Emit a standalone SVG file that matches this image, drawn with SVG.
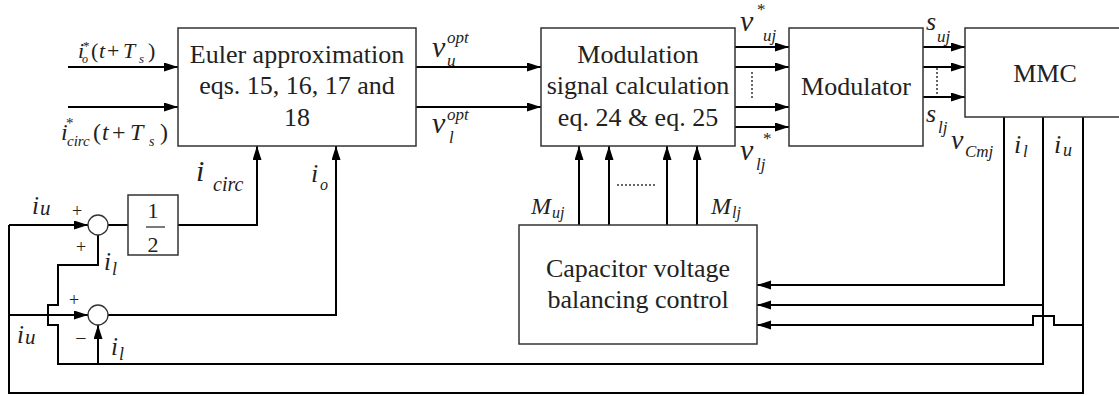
<svg xmlns="http://www.w3.org/2000/svg" width="1119" height="396" viewBox="0 0 1119 396" font-family="Liberation Serif, DejaVu Serif, serif">
<style>
.box{fill:#fff;stroke:#333;stroke-width:1.5}
.ln{fill:none;stroke:#000;stroke-width:2}
.ar{fill:none;stroke:#000;stroke-width:2;marker-end:url(#ah)}
.dot{fill:none;stroke:#333;stroke-width:1.5;stroke-dasharray:2,2}
.t{font-size:26px;fill:#222;text-anchor:middle}
.m{font-style:italic;fill:#222}
.n{fill:#222}
</style>
<defs>
<marker id="ah" markerUnits="userSpaceOnUse" markerWidth="15" markerHeight="10" refX="14" refY="4.5" orient="auto"><path d="M0,0 L14,4.5 L0,9 z" fill="#000"/></marker>
</defs>
<rect width="1119" height="396" fill="#fff"/>
<g id="connectors">
<path class="ar" d="M68,67 H178"/>
<path class="ar" d="M68,107 H178"/>
<path class="ar" d="M416,67 H541"/>
<path class="ar" d="M416,107 H541"/>
<path class="ar" d="M735,47 H789"/>
<path class="ar" d="M735,67 H789"/>
<path class="ar" d="M735,107 H789"/>
<path class="ar" d="M735,127 H789"/>
<path class="dot" d="M752,72 V99"/>
<path class="ar" d="M923,47 H965"/>
<path class="ar" d="M923,67 H965"/>
<path class="ar" d="M923,97 H965"/>
<path class="dot" d="M937,68 V96"/>
<path class="ar" d="M579,225 V146"/>
<path class="ar" d="M609,225 V146"/>
<path class="ar" d="M667,225 V146"/>
<path class="ar" d="M697,225 V146"/>
<path class="dot" d="M617,185 H656"/>
<path class="ar" d="M1004,117 V285 H757"/>
<path class="ar" d="M1043,305 H757"/>
<path class="ln" d="M1043,117 V364 H58 V325 H48 V305 H58 V265 H98 V235"/>
<path class="ar" d="M1083,325 H1054 V316 H1033 V325 H757"/>
<path class="ln" d="M1083,117 V393 H9 V225"/>
<path class="ar" d="M9,225 H88"/>
<path class="ar" d="M9,315 H88"/>
<path class="ar" d="M98,364 V325"/>
<path class="ln" d="M108,225 H128"/>
<path class="ar" d="M178,225 H257 V146"/>
<path class="ar" d="M108,315 H336 V146"/>
</g>
<g id="euler">
<rect class="box" x="178" y="28" width="238" height="118"/>
<text class="t" x="297" y="63">Euler approximation</text>
<text class="t" x="297" y="94">eqs. 15, 16, 17 and</text>
<text class="t" x="297" y="126">18</text>
</g>
<g id="modcalc">
<rect class="box" x="541" y="28" width="194" height="118"/>
<text class="t" x="638" y="63">Modulation</text>
<text class="t" x="638" y="94">signal calculation</text>
<text class="t" x="638" y="126">eq. 24 &amp; eq. 25</text>
</g>
<g id="modulator">
<rect class="box" x="789" y="28" width="134" height="118"/>
<text class="t" x="856" y="95">Modulator</text>
</g>
<g id="mmc">
<rect class="box" x="965" y="28" width="160" height="89"/>
<text class="t" x="1045" y="82" font-size="27">MMC</text>
</g>
<g id="capacitor">
<rect class="box" x="519" y="225" width="238" height="119"/>
<text class="t" x="638" y="277">Capacitor voltage</text>
<text class="t" x="638" y="308">balancing control</text>
</g>
<g id="half">
<rect class="box" x="128" y="195" width="50" height="60"/>
<text class="n" x="153" y="218" font-size="22" text-anchor="middle">1</text>
<path d="M146,227 H165" stroke="#222" stroke-width="1.2"/>
<text class="n" x="153" y="252" font-size="22" text-anchor="middle">2</text>
</g>
<g id="sum1">
<circle cx="98" cy="225" r="10" fill="#fff" stroke="#333" stroke-width="1.3"/>
</g>
<g id="sum2">
<circle cx="98" cy="315" r="10" fill="#fff" stroke="#333" stroke-width="1.3"/>
</g>
<g id="labels">
<text class="m" x="78" y="58" font-size="22">i</text>
<text class="n" x="83" y="50" font-size="13">*</text>
<text class="m" x="82" y="63" font-size="12">o</text>
<text class="n" x="91" y="58" font-size="22">(</text>
<text class="m" x="99" y="58" font-size="22">t</text>
<text class="n" x="107" y="58" font-size="22">+</text>
<text class="m" x="123" y="58" font-size="22">T</text>
<text class="m" x="139" y="63" font-size="13">s</text>
<text class="n" x="148" y="58" font-size="22">)</text>

<text class="m" x="61" y="140" font-size="24">i</text>
<text class="n" x="66" y="128" font-size="15">*</text>
<text class="m" x="67" y="146" font-size="15">circ</text>
<text class="n" x="93" y="140" font-size="24">(</text>
<text class="m" x="102" y="140" font-size="24">t</text>
<text class="n" x="112" y="140" font-size="24">+</text>
<text class="m" x="130" y="140" font-size="24">T</text>
<text class="m" x="149" y="146" font-size="14">s</text>
<text class="n" x="160" y="140" font-size="24">)</text>

<text class="m" x="196" y="181" font-size="30">i</text>
<text class="m" x="213" y="191" font-size="20">circ</text>
<text class="m" x="311" y="182" font-size="26">i</text>
<text class="m" x="320" y="190" font-size="16">o</text>

<text class="m" x="432" y="57" font-size="30">v</text>
<text class="m" x="447" y="43" font-size="17">opt</text>
<text class="m" x="447" y="66" font-size="17">u</text>
<text class="m" x="432" y="133" font-size="30">v</text>
<text class="m" x="447" y="120" font-size="17">opt</text>
<text class="m" x="449" y="143" font-size="17">l</text>

<text class="m" x="740" y="31" font-size="30">v</text>
<text class="n" x="757" y="15" font-size="17">*</text>
<text class="m" x="763" y="41" font-size="17">uj</text>
<text class="m" x="740" y="160" font-size="30">v</text>
<text class="n" x="763" y="144" font-size="17">*</text>
<text class="m" x="756" y="170" font-size="17">lj</text>

<text class="m" x="926" y="30" font-size="26">s</text>
<text class="m" x="937" y="42" font-size="17">uj</text>
<text class="m" x="926" y="122" font-size="26">s</text>
<text class="m" x="938" y="133" font-size="17">lj</text>
<text class="m" x="951" y="149" font-size="28">v</text>
<text class="m" x="965" y="157" font-size="17">Cmj</text>
<text class="m" x="1014" y="153" font-size="26">i</text>
<text class="m" x="1023" y="157" font-size="17">l</text>
<text class="m" x="1054" y="153" font-size="26">i</text>
<text class="m" x="1063" y="156" font-size="18">u</text>

<text class="m" x="531" y="214" font-size="24">M</text>
<text class="m" x="552" y="218" font-size="16">uj</text>
<text class="m" x="711" y="214" font-size="24">M</text>
<text class="m" x="732" y="218" font-size="16">lj</text>

<text class="m" x="32" y="214" font-size="25">i</text>
<text class="m" x="40" y="215" font-size="21">u</text>
<text class="n" x="77" y="217" font-size="18" text-anchor="middle">+</text>
<text class="n" x="81" y="253" font-size="18" text-anchor="middle">+</text>
<text class="m" x="104" y="270" font-size="25">i</text>
<text class="m" x="112" y="275" font-size="18">l</text>
<text class="n" x="74" y="306" font-size="18" text-anchor="middle">+</text>
<text class="m" x="17" y="343" font-size="25">i</text>
<text class="m" x="25" y="344" font-size="21">u</text>
<text class="n" x="81" y="345" font-size="20" text-anchor="middle">−</text>
<text class="m" x="111" y="355" font-size="25">i</text>
<text class="m" x="119" y="360" font-size="18">l</text>
</g>
</svg>
